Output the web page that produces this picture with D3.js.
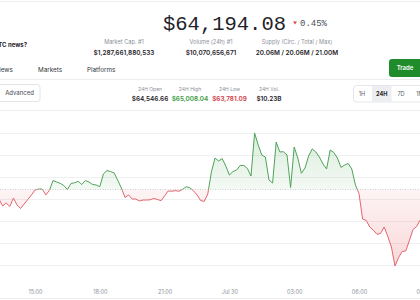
<!DOCTYPE html>
<html>
<head>
<meta charset="utf-8">
<script src="https://cdn.jsdelivr.net/npm/d3@7"></script>
<style>
  body { margin: 0; background: #fff; }
  svg { display: block; }
  text { font-family: Inter, "Noto Sans", sans-serif; }
</style>
</head>
<body>
<svg width="420" height="300"></svg>
<script>
// price every 10 minutes, starting Jul 29 13:20
const startTime = new Date(2024, 6, 29, 13, 20);
const stepMinutes = 10;
const prices = [
  64397, 64334, 64361, 64329, 64406, 64343, 64311, 64352, 64393, 64434,
  64479, 64488, 64488, 64434, 64475, 64565, 64552, 64540, 64520, 64484,
  64538, 64545, 64558, 64529, 64565, 64552, 64529, 64525, 64509, 64625,
  64656, 64647, 64634, 64565, 64497, 64411, 64434, 64397, 64397, 64379,
  64388, 64388, 64390, 64402, 64393, 64382, 64425, 64470, 64468, 64473,
  64468, 64485, 64509, 64499, 64472, 64435, 64384, 64375, 64443, 64643,
  64770, 64743, 64765, 64697, 64615, 64647, 64661, 64702, 64702, 64675,
  64606, 64997, 64888, 64797, 64779, 64570, 64543, 64915, 64825, 64827,
  64797, 64502, 64870, 64770, 64631, 64679, 64788, 64852, 64825, 64779,
  64715, 64670, 64843, 64820, 64770, 64684, 64706, 64720, 64670, 64525,
  64447, 64215, 64202, 64143, 64113, 64076, 64084, 64143, 64056, 63961,
  63788, 63865, 63920, 63925, 64020, 64120, 64147, 64206
];
const refPrice = 64484;
const gridValues = [63800, 64000, 64200, 64400, 64600, 64800, 65000];
const timeTicks = [
  new Date(2024, 6, 29, 15), new Date(2024, 6, 29, 18), new Date(2024, 6, 29, 21),
  new Date(2024, 6, 30, 0), new Date(2024, 6, 30, 3), new Date(2024, 6, 30, 6),
  new Date(2024, 6, 30, 9)
];

const priceText = "$64,194.08";
const changeText = "0.45%";
const statLabels = ["Market Cap. #1", "Volume (24h) #1", "Supply (Circ. / Total / Max)"];
const statValues = ["$1,287,661,880,533", "$10,070,656,671", "20.06M / 20.06M / 21.00M"];
const navItems = ["News", "Markets", "Platforms"];
const dayLabels = ["24H Open", "24H High", "24H Low", "24H Vol."];
const dayValues = ["$64,546.66", "$65,008.04", "$63,781.09", "$10.23B"];
const ranges = ["1H", "24H", "7D", "1M"];

const svg = d3.select('svg');
const dark = '#1f2329', grey = '#8b9098', rule = '#eceef1';

// ---- header ----
svg.append('line').attr('x1', 0).attr('x2', 420).attr('y1', 1.5).attr('y2', 1.5).attr('stroke', rule);

svg.append('text').text(priceText)
  .attr('x', 163).attr('y', 29.5)
  .style('font-family', '"Liberation Mono", "DejaVu Sans Mono", monospace')
  .attr('font-size', 20.5).attr('fill', dark);

svg.append('path').attr('d', 'M293,21.5 L297,21.5 L295,24.5 Z').attr('fill', '#e0434f');
svg.append('text').text(changeText)
  .attr('x', 300).attr('y', 25.5)
  .style('font-family', '"Liberation Mono", "DejaVu Sans Mono", monospace')
  .attr('font-size', 9).attr('fill', '#4a4f57');

svg.append('text').text('BTC news?')
  .attr('x', 27).attr('y', 47).attr('text-anchor', 'end')
  .attr('font-size', 6).attr('font-weight', 700).attr('fill', dark);

const statX = [124, 211, 297];
svg.selectAll('text.statLabel').data(statLabels).join('text')
  .attr('class', 'statLabel').text(d => d)
  .attr('x', (d, i) => statX[i]).attr('y', 44).attr('text-anchor', 'middle')
  .attr('font-size', 5.6).attr('fill', grey);
svg.selectAll('text.statValue').data(statValues).join('text')
  .attr('class', 'statValue').text(d => d)
  .attr('x', (d, i) => statX[i]).attr('y', 54.5).attr('text-anchor', 'middle')
  .attr('font-size', 6.4).attr('font-weight', 600).attr('fill', dark);

const navX = [-4, 38, 87];
svg.selectAll('text.nav').data(navItems).join('text')
  .attr('class', 'nav').text(d => d)
  .attr('x', (d, i) => navX[i]).attr('y', 72)
  .attr('font-size', 6.3).attr('fill', '#30353c');

svg.append('rect').attr('x', 389).attr('y', 59).attr('width', 40).attr('height', 18)
  .attr('rx', 3).attr('fill', '#1f8b2b');
svg.append('text').text('Trade').attr('x', 405).attr('y', 70).attr('text-anchor', 'middle')
  .attr('font-size', 6).attr('font-weight', 600).attr('fill', '#fff');

svg.append('line').attr('x1', 0).attr('x2', 420).attr('y1', 79.5).attr('y2', 79.5).attr('stroke', rule);

svg.append('rect').attr('x', -6).attr('y', 84.5).attr('width', 46).attr('height', 17)
  .attr('rx', 3).attr('fill', '#fff').attr('stroke', '#e2e4e8');
svg.append('text').text('Advanced').attr('x', 19.5).attr('y', 95)
  .attr('text-anchor', 'middle').attr('font-size', 6).attr('fill', '#454a52');

const dayX = [150, 190, 229.5, 269];
const dayColors = [dark, '#3a9a43', '#d23a44', dark];
svg.selectAll('text.dayLabel').data(dayLabels).join('text')
  .attr('class', 'dayLabel').text(d => d)
  .attr('x', (d, i) => dayX[i]).attr('y', 90.5).attr('text-anchor', 'middle')
  .attr('font-size', 5).attr('fill', grey);
svg.selectAll('text.dayValue').data(dayValues).join('text')
  .attr('class', 'dayValue').text(d => d)
  .attr('x', (d, i) => dayX[i]).attr('y', 100.5).attr('text-anchor', 'middle')
  .attr('font-size', 6.4).attr('font-weight', 600).attr('fill', (d, i) => dayColors[i]);

svg.append('rect').attr('x', 353.5).attr('y', 85.5).attr('width', 80).attr('height', 16.5)
  .attr('rx', 3).attr('fill', '#fff').attr('stroke', '#e4e6ea');
svg.append('rect').attr('x', 372).attr('y', 86).attr('width', 19.5).attr('height', 15.5)
  .attr('fill', '#eceef1');
const rangeX = [362, 381.7, 401, 420];
svg.selectAll('text.range').data(ranges).join('text')
  .attr('class', 'range').text(d => d)
  .attr('x', (d, i) => rangeX[i]).attr('y', 96).attr('text-anchor', 'middle')
  .attr('font-size', 5.6).attr('font-weight', (d, i) => i === 1 ? 700 : 400)
  .attr('fill', (d, i) => i === 1 ? dark : '#5b6068');

svg.append('line').attr('x1', 0).attr('x2', 420).attr('y1', 110.5).attr('y2', 110.5).attr('stroke', rule);

// ---- chart ----
const x = d3.scaleTime()
  .domain([new Date(2024, 6, 29, 15), new Date(2024, 6, 30, 6)])
  .range([35, 359]);
const y = d3.scaleLinear().domain([63800, 65000]).range([264.7, 132.7]);

const data = prices.map((p, i) => ({ t: new Date(+startTime + i * stepMinutes * 60000), p }));
const yRef = y(refPrice);

svg.selectAll('line.grid').data(gridValues).join('line')
  .attr('class', 'grid')
  .attr('x1', 0).attr('x2', 420)
  .attr('y1', d => Math.round(y(d)) + 0.5).attr('y2', d => Math.round(y(d)) + 0.5)
  .attr('stroke', '#eef0f2');

const defs = svg.append('defs');
defs.append('clipPath').attr('id', 'above').append('rect')
  .attr('x', 0).attr('y', 0).attr('width', 420).attr('height', yRef);
defs.append('clipPath').attr('id', 'below').append('rect')
  .attr('x', 0).attr('y', yRef).attr('width', 420).attr('height', 300 - yRef);

const gUp = defs.append('linearGradient').attr('id', 'gUp')
  .attr('gradientUnits', 'userSpaceOnUse').attr('x1', 0).attr('x2', 0).attr('y1', 130).attr('y2', yRef);
gUp.append('stop').attr('offset', 0).attr('stop-color', '#3f9f4a').attr('stop-opacity', 0.2);
gUp.append('stop').attr('offset', 1).attr('stop-color', '#3f9f4a').attr('stop-opacity', 0.06);
const gDn = defs.append('linearGradient').attr('id', 'gDn')
  .attr('gradientUnits', 'userSpaceOnUse').attr('x1', 0).attr('x2', 0).attr('y1', yRef).attr('y2', 268);
gDn.append('stop').attr('offset', 0).attr('stop-color', '#e5484d').attr('stop-opacity', 0.06);
gDn.append('stop').attr('offset', 1).attr('stop-color', '#e5484d').attr('stop-opacity', 0.22);

const area = d3.area().x(d => x(d.t)).y0(yRef).y1(d => y(d.p));
const line = d3.line().x(d => x(d.t)).y(d => y(d.p));

svg.append('path').datum(data).attr('d', area).attr('fill', 'url(#gUp)').attr('clip-path', 'url(#above)');
svg.append('path').datum(data).attr('d', area).attr('fill', 'url(#gDn)').attr('clip-path', 'url(#below)');

svg.append('line').attr('x1', 0).attr('x2', 420).attr('y1', yRef).attr('y2', yRef)
  .attr('stroke', '#c9cdd3').attr('stroke-dasharray', '1,1.5');

svg.append('path').datum(data).attr('d', line).attr('fill', 'none')
  .attr('stroke', '#4ea257').attr('stroke-width', 1).attr('clip-path', 'url(#above)');
svg.append('path').datum(data).attr('d', line).attr('fill', 'none')
  .attr('stroke', '#e4646d').attr('stroke-width', 1).attr('clip-path', 'url(#below)');

const xAxis = d3.axisBottom(x)
  .tickValues(timeTicks)
  .tickFormat(d => d.getHours() === 0 ? d3.timeFormat('%b %-d')(d) : d3.timeFormat('%H:%M')(d))
  .tickSize(0).tickPadding(5);
const gx = svg.append('g').attr('transform', 'translate(0,285)').call(xAxis);
gx.select('.domain').remove();
gx.selectAll('text').attr('font-size', 5.5).attr('fill', grey)
  .style('font-family', 'Inter, "Noto Sans", sans-serif');

svg.append('line').attr('x1', 0).attr('x2', 420).attr('y1', 298.5).attr('y2', 298.5).attr('stroke', rule);
</script>
</body>
</html>
